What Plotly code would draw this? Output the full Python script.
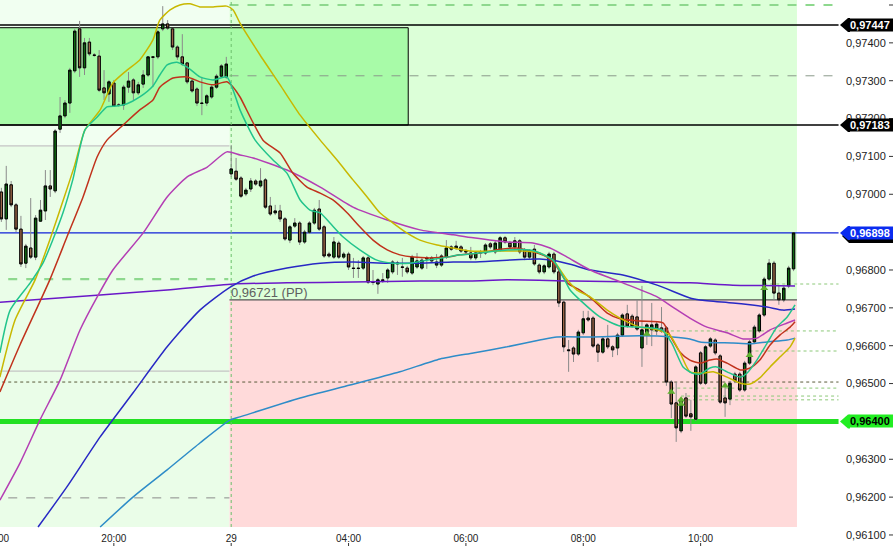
import plotly.graph_objects as go

# ---------------------------------------------------------------- data
# prices are stored in points (1 point = 0.00001); bar 0 = day 29, 00:00 (5-minute bars)
FIRST_BAR = -47

opens = [
    97006, 96935, 97025, 96972, 96908, 96818, 96858, 96834, 96929, 96956,
    97022, 97009, 97172, 97207, 97241, 97326, 97437, 97334, 97402, 97368,
    97365, 97281, 97265, 97294, 97236, 97236, 97283, 97302, 97268, 97291,
    97315, 97363, 97363, 97437, 97450, 97437, 97389, 97363, 97347, 97299,
    97278, 97241, 97241, 97257, 97283, 97312, 97310, 97054, 97061, 97043,
    97001, 97014, 97035, 97022, 97038, 96969, 96951, 96956, 96935, 96879,
    96916, 96924, 96874, 96900, 96924, 96961, 96914, 96842, 96834, 96871,
    96834, 96842, 96805, 96805, 96805, 96832, 96768, 96763, 96774, 96779,
    96795, 96816, 96808, 96805, 96792, 96808, 96805, 96829, 96832, 96813,
    96813, 96834, 96855, 96858, 96861, 96850, 96845, 96832, 96845, 96845,
    96869, 96848, 96853, 96885, 96871, 96861, 96877, 96853, 96834, 96855,
    96813, 96795, 96808, 96842, 96795, 96715, 96589, 96594, 96578, 96634,
    96673, 96673, 96602, 96583, 96618, 96597, 96594, 96628, 96684, 96678,
    96676, 96594, 96634, 96642, 96639, 96647, 96647, 96504, 96449, 96375,
    96462, 96420, 96406, 96581, 96501, 96599, 96615, 96573, 96462, 96459,
    96525, 96525, 96483, 96554, 96610, 96639, 96681, 96776, 96818, 96739,
    96721, 96758, 96803]
highs = [
    97017, 97075, 97035, 96977, 96943, 96869, 96990, 96945, 96985, 97064,
    97064, 97172, 97257, 97249, 97334, 97437, 97458, 97413, 97413, 97373,
    97381, 97328, 97302, 97302, 97241, 97289, 97323, 97307, 97297, 97328,
    97363, 97365, 97434, 97497, 97460, 97439, 97394, 97423, 97349, 97305,
    97283, 97310, 97265, 97289, 97318, 97344, 97363, 97130, 97096, 97048,
    97017, 97043, 97040, 97069, 97043, 96993, 96972, 96972, 96940, 96919,
    96937, 96929, 96906, 96929, 96964, 96985, 96919, 96848, 96887, 96877,
    96848, 96848, 96832, 96826, 96837, 96837, 96800, 96779, 96792, 96805,
    96826, 96824, 96832, 96811, 96840, 96845, 96832, 96837, 96837, 96842,
    96842, 96879, 96866, 96877, 96866, 96855, 96861, 96850, 96853, 96871,
    96874, 96877, 96890, 96890, 96877, 96887, 96882, 96858, 96855, 96866,
    96818, 96816, 96848, 96848, 96800, 96721, 96615, 96599, 96642, 96692,
    96692, 96678, 96607, 96623, 96655, 96602, 96634, 96686, 96708, 96684,
    96721, 96758, 96660, 96713, 96663, 96702, 96652, 96509, 96504, 96462,
    96475, 96457, 96549, 96586, 96602, 96623, 96620, 96578, 96491, 96507,
    96531, 96531, 96560, 96615, 96655, 96686, 96782, 96829, 96824, 96760,
    96758, 96811, 96898]
lows = [
    96927, 96906, 96966, 96900, 96808, 96805, 96829, 96826, 96927, 96932,
    96993, 97003, 97162, 97201, 97215, 97320, 97310, 97315, 97365, 97363,
    97270, 97249, 97244, 97231, 97231, 97223, 97268, 97249, 97262, 97281,
    97310, 97283, 97357, 97431, 97434, 97381, 97355, 97339, 97291, 97268,
    97233, 97209, 97233, 97252, 97278, 97307, 97305, 97046, 97035, 96990,
    96995, 97006, 97022, 97017, 96961, 96943, 96945, 96927, 96877, 96871,
    96911, 96866, 96869, 96895, 96919, 96903, 96832, 96832, 96829, 96829,
    96829, 96800, 96779, 96779, 96800, 96763, 96760, 96737, 96766, 96766,
    96789, 96787, 96782, 96789, 96787, 96803, 96800, 96803, 96818, 96805,
    96808, 96829, 96850, 96853, 96845, 96842, 96826, 96826, 96832, 96840,
    96855, 96842, 96848, 96869, 96855, 96855, 96842, 96826, 96829, 96811,
    96789, 96789, 96803, 96789, 96702, 96583, 96531, 96557, 96573, 96628,
    96663, 96594, 96557, 96578, 96591, 96570, 96575, 96623, 96647, 96647,
    96639, 96544, 96602, 96599, 96628, 96634, 96494, 96409, 96346, 96369,
    96409, 96375, 96401, 96496, 96496, 96594, 96575, 96446, 96412, 96443,
    96501, 96478, 96478, 96549, 96605, 96634, 96676, 96771, 96721, 96708,
    96715, 96752, 96797]
closes = [
    96935, 97027, 96972, 96908, 96816, 96863, 96834, 96937, 96958, 97022,
    97014, 97167, 97207, 97241, 97328, 97431, 97334, 97400, 97371, 97367,
    97275, 97268, 97297, 97233, 97235, 97283, 97299, 97268, 97289, 97315,
    97363, 97362, 97429, 97450, 97439, 97389, 97363, 97344, 97297, 97273,
    97241, 97240, 97260, 97283, 97312, 97339, 97344, 97067, 97040, 96995,
    97011, 97035, 97027, 97035, 96966, 96948, 96956, 96935, 96882, 96914,
    96924, 96874, 96900, 96924, 96958, 96908, 96837, 96837, 96874, 96834,
    96842, 96808, 96804, 96804, 96832, 96768, 96767, 96774, 96772, 96800,
    96821, 96818, 96807, 96795, 96834, 96824, 96826, 96832, 96824, 96821,
    96837, 96858, 96861, 96863, 96850, 96848, 96832, 96845, 96848, 96866,
    96861, 96871, 96885, 96874, 96861, 96877, 96848, 96834, 96850, 96816,
    96795, 96811, 96842, 96795, 96713, 96597, 96587, 96578, 96636, 96671,
    96668, 96599, 96583, 96618, 96597, 96589, 96628, 96681, 96652, 96652,
    96644, 96642, 96655, 96655, 96657, 96639, 96504, 96446, 96383, 96457,
    96414, 96412, 96544, 96501, 96597, 96618, 96581, 96451, 96449, 96501,
    96507, 96483, 96554, 96610, 96649, 96681, 96776, 96818, 96739, 96721,
    96752, 96805, 96898]

# moving averages: (bar position, value in points)
ma_teal = [(-47.3, 96581), (-45.2, 96694), (-41.1, 96766), (-38.5, 96818), (-36.5, 96879), (-34.4, 96951),
           (-32.4, 97038), (-29.9, 97170), (-27.4, 97204), (-25.4, 97231), (-23.4, 97233), (-21.3, 97239),
           (-18.7, 97257), (-16.0, 97286), (-14.6, 97315), (-13.1, 97342), (-11.1, 97349), (-9.0, 97336),
           (-6.4, 97310), (-3.7, 97302), (-0.9, 97310), (0.4, 97275), (1.8, 97223), (4.9, 97143), (8.5, 97091),
           (11.4, 97056), (14.1, 96985), (16.1, 96958), (18.2, 96951), (20.2, 96924), (22.9, 96887),
           (26.3, 96853), (29.8, 96826), (33.1, 96818), (36.6, 96818), (40.0, 96826), (43.3, 96832),
           (46.8, 96840), (48.8, 96842), (52.9, 96848), (56.4, 96853), (61.1, 96853), (63.1, 96845),
           (65.8, 96826), (67.9, 96782), (69.3, 96747), (71.3, 96721), (75.4, 96676), (79.5, 96652),
           (84.2, 96649), (88.1, 96642), (90.1, 96607), (92.4, 96544), (94.2, 96528), (95.9, 96525),
           (97.9, 96541), (99.3, 96544), (101.4, 96531), (104.1, 96517), (105.5, 96528), (107.5, 96562),
           (109.6, 96607), (111.6, 96649), (113.7, 96676), (115.3, 96708)]
ma_yellow = [(-47.3, 96517), (-44.2, 96668), (-40.1, 96774), (-37.1, 96879), (-34.0, 96998), (-32.0, 97077),
             (-29.9, 97170), (-26.8, 97223), (-24.2, 97294), (-21.3, 97328), (-18.7, 97355), (-16.0, 97408),
             (-14.6, 97460), (-12.5, 97487), (-10.5, 97500), (-8.4, 97503), (-6.4, 97495), (-3.7, 97495),
             (-0.9, 97497), (0.4, 97487), (1.8, 97452), (5.9, 97368), (10.0, 97289), (14.1, 97209),
             (18.2, 97143), (21.6, 97091), (24.9, 97038), (27.8, 96993), (30.4, 96951), (33.1, 96924),
             (35.9, 96898), (38.6, 96879), (42.1, 96866), (45.4, 96858), (48.8, 96850), (55.0, 96850),
             (59.7, 96850), (63.1, 96845), (65.8, 96826), (68.7, 96774), (70.7, 96747), (73.4, 96729),
             (76.9, 96694), (79.5, 96673), (83.6, 96649), (87.1, 96642), (89.7, 96628), (91.8, 96581),
             (93.8, 96531), (96.5, 96528), (98.6, 96531), (101.4, 96517), (104.1, 96501), (106.1, 96499),
             (108.1, 96515), (110.2, 96544), (112.2, 96570), (114.3, 96597), (115.3, 96620)]
ma_red = [(-47.3, 96478), (-43.2, 96602), (-37.1, 96774), (-33.6, 96887), (-30.3, 96993), (-27.4, 97099),
          (-25.4, 97143), (-22.1, 97183), (-18.7, 97223), (-16.0, 97249), (-14.6, 97283), (-11.9, 97307),
          (-9.0, 97310), (-6.4, 97297), (-3.7, 97289), (-0.9, 97297), (0.4, 97283), (1.8, 97257),
          (6.5, 97143), (10.0, 97109), (12.6, 97056), (15.5, 97019), (18.2, 97003), (20.8, 96985),
          (23.7, 96951), (26.3, 96914), (29.0, 96879), (31.9, 96853), (34.5, 96840), (37.2, 96834),
          (40.7, 96832), (44.1, 96834), (46.8, 96840), (50.9, 96845), (55.0, 96855), (58.4, 96858),
          (61.7, 96848), (64.6, 96834), (66.6, 96808), (68.7, 96766), (71.3, 96747), (74.0, 96721),
          (76.9, 96686), (79.5, 96671), (83.6, 96665), (88.3, 96660), (89.7, 96628), (91.8, 96583),
          (93.8, 96562), (95.9, 96554), (97.9, 96562), (99.3, 96565), (101.4, 96554), (104.1, 96536),
          (106.1, 96541), (108.1, 96562), (110.2, 96602), (112.2, 96628), (114.3, 96649), (115.3, 96663)]
ma_magenta = [(-47.3, 96192), (-43.2, 96290), (-39.1, 96404), (-35.0, 96509), (-30.9, 96642), (-27.4, 96729),
              (-24.2, 96800), (-18.0, 96898), (-13.1, 96993), (-9.0, 97046), (-4.9, 97072), (-0.9, 97112),
              (1.8, 97104), (4.5, 97096), (11.4, 97064), (18.2, 97019), (24.9, 96966), (31.9, 96932),
              (38.6, 96906), (45.4, 96893), (49.5, 96885), (56.4, 96874), (61.7, 96871), (65.2, 96858),
              (68.7, 96834), (73.4, 96800), (80.1, 96766), (87.1, 96729), (90.3, 96702), (93.8, 96673),
              (97.3, 96649), (101.4, 96634), (104.7, 96618), (107.5, 96620), (110.2, 96642), (113.7, 96660),
              (115.3, 96668)]
ma_blue = [(-39.5, 96121), (-33.6, 96227), (-26.8, 96359), (-20.1, 96475), (-13.1, 96597), (-6.4, 96694),
           (-0.2, 96755), (4.5, 96784), (11.4, 96805), (18.2, 96818), (24.9, 96821), (31.9, 96818),
           (38.6, 96818), (45.4, 96821), (49.5, 96821), (56.4, 96826), (63.1, 96829), (66.6, 96824),
           (69.9, 96813), (73.4, 96800), (80.1, 96787), (87.1, 96760), (93.8, 96726), (95.9, 96721),
           (102.6, 96713), (106.1, 96708), (109.6, 96702), (112.9, 96694), (115.3, 96697)]
ma_indigo = [(-47.3, 96715), (-26.8, 96734), (-13.1, 96747), (0.4, 96763), (11.4, 96766), (24.9, 96768),
             (38.6, 96771), (48.8, 96771), (56.4, 96774), (69.9, 96771), (83.6, 96768), (93.8, 96766),
             (102.6, 96760), (115.3, 96758)]
ma_steel = [(-26.8, 96121), (-20.1, 96200), (-13.1, 96272), (-6.4, 96343), (-0.2, 96404), (1.8, 96412),
            (14.1, 96462), (24.3, 96496), (34.5, 96531), (42.7, 96565), (49.5, 96581), (56.4, 96597),
            (63.1, 96615), (66.6, 96623), (73.4, 96623), (83.6, 96626), (90.3, 96623), (93.8, 96618),
            (95.9, 96610), (102.6, 96607), (106.1, 96605), (109.6, 96610), (113.7, 96615), (115.3, 96620)]

# fractal-like up markers
marker_bars = [85, 90, 92, 92, 101, 106, 109]
marker_vals = [96631, 96478, 96457, 96446, 96494, 96575, 96752]

# x-axis labels
tick_bars = [-24, 0, 24, 48, 72, 96]
tick_text = ["20:00", "29", "04:00", "06:00", "08:00", "10:00"]
cut_label = "18:00"
cut_label_bar = -48

# price axis ticks (0,96900 and 0,96400 sit under the price tags)
price_ticks = [0.961, 0.962, 0.963, 0.965, 0.966, 0.967, 0.968, 0.970, 0.971, 0.972, 0.973, 0.974, 0.975]

# price levels
pivot_pp = 0.96721
box_top, box_bottom = 0.97440, 0.97183
left_split = 0.97128
level_prices = [0.97500, 0.97447, 0.97313, 0.97183, 0.97128, 0.96898, 0.96776, 0.96763,
                0.96639, 0.96586, 0.96533, 0.96504, 0.96488, 0.96467, 0.96457, 0.96400, 0.96198]
label_prices = [0.97447, 0.97183, 0.96898, 0.96400]

# ---------------------------------------------------------------- layout constants
W, H = 893, 546
PLOT_W = 845
PX_PER_BAR = 4.89
BAR0_PX = 231.2
X_MIN = -BAR0_PX / PX_PER_BAR
X_MAX = X_MIN + PLOT_W / PX_PER_BAR
Y_MIN, Y_MAX = 0.960709, 0.975132
PX_Y = (Y_MAX - Y_MIN) / H          # price units per pixel
SHADE_BOT = 0.961211
ZONE_START = -0.35
ZONE_END = 115.7
LINE_END = 124.2
LEFT = X_MIN - 2
BOX_END = 36.2
XAXIS_POS = (H - 531) / H           # x-axis line height (paper units)

def pts(v):
    return round(v * 1e-5, 5)

n = len(opens)
bars = list(range(FIRST_BAR, FIRST_BAR + n))
O = [pts(v) for v in opens]
Hh = [pts(v) for v in highs]
L = [pts(v) for v in lows]
C = [pts(v) for v in closes]
body_hi = [max(a, b) for a, b in zip(O, C)]
body_lo = [min(a, b) for a, b in zip(O, C)]

fig = go.Figure()

WICK = "#8a8a8a"
fig.add_trace(go.Candlestick(
    x=bars, open=O, high=Hh, low=L, close=C,
    increasing=dict(line=dict(color=WICK, width=1), fillcolor=WICK),
    decreasing=dict(line=dict(color=WICK, width=1), fillcolor=WICK),
    whiskerwidth=0, hoverinfo="skip", showlegend=False))
fig.add_trace(go.Candlestick(
    x=bars, open=O, high=body_hi, low=body_lo, close=C,
    increasing=dict(line=dict(color="#000000", width=1), fillcolor="#0E6A12"),
    decreasing=dict(line=dict(color="#000000", width=1), fillcolor="#9C6648"),
    whiskerwidth=0, hoverinfo="skip", showlegend=False))

ma_styles = [
    (ma_steel, "#2E8CC8"),
    (ma_indigo, "#6A18C8"),
    (ma_blue, "#2828C4"),
    (ma_magenta, "#B43EB4"),
    (ma_red, "#C0321C"),
    (ma_yellow, "#C8B800"),
    (ma_teal, "#22C48C"),
]
for series, col in ma_styles:
    fig.add_trace(go.Scatter(
        x=[p[0] for p in series], y=[pts(p[1]) for p in series],
        mode="lines", line=dict(color=col, width=1.5, shape="spline", smoothing=0.6),
        hoverinfo="skip", showlegend=False))

fig.add_trace(go.Scatter(
    x=marker_bars, y=[pts(v) for v in marker_vals], mode="markers",
    marker=dict(symbol="triangle-up", size=7, color="#5FB030"),
    hoverinfo="skip", showlegend=False))

# ---------------------------------------------------------------- shapes
shapes = []

def rect(x0, x1, y0, y1, color, border=None):
    shapes.append(dict(type="rect", xref="x", yref="y", x0=x0, x1=x1, y0=y0, y1=y1,
                       fillcolor=color,
                       line=dict(width=1, color=border) if border else dict(width=0),
                       layer="below"))

rect(LEFT, ZONE_START, left_split, Y_MAX + 0.001, "#F1FFF1")
rect(LEFT, ZONE_START, SHADE_BOT, left_split, "#EAFDE8")
rect(ZONE_START, ZONE_END, pivot_pp, Y_MAX + 0.001, "#DCFFD8")
rect(ZONE_START, ZONE_END, SHADE_BOT, pivot_pp, "#FFDADA")
rect(LEFT, BOX_END, box_bottom, box_top, "#A8FBA8", border="#000000")

level_styles = [
    (ZONE_START, LINE_END, "#8ED88E", 2.2, "dash"),     # 0.97500
    (LEFT, LINE_END, "#000000", 1.4, "solid"),           # 0.97447
    (ZONE_START, LINE_END, "#8A9A8A", 1, "dash"),        # 0.97313
    (LEFT, LINE_END, "#000000", 1.3, "solid"),           # 0.97183
    (LEFT, ZONE_START, "#C4C4C4", 1.2, "solid"),         # 0.97128
    (LEFT, LINE_END, "#1020D8", 1.2, "solid"),           # 0.96898
    (LEFT, -0.6, "#8ED88E", 2.2, "dash"),                # 0.96776
    (109, LINE_END, "#8CC878", 1, "dot"),                # 0.96763
    (85, LINE_END, "#8CC878", 1, "dot"),                 # 0.96639
    (106, LINE_END, "#8CC878", 1, "dot"),                # 0.96586
    (LEFT, ZONE_START, "#C4C4C4", 1.2, "solid"),         # 0.96533
    (LEFT, LINE_END, "#5A5A3A", 1, "dot"),               # 0.96504
    (90, LINE_END, "#8CC878", 1, "dot"),                 # 0.96488
    (92, LINE_END, "#8CC878", 1, "dot"),                 # 0.96467
    (92, LINE_END, "#8CC878", 1, "dot"),                 # 0.96457
    (LEFT, LINE_END, "#22E022", 5, "solid"),             # 0.96400
    (LEFT, ZONE_START, "#8A8A8A", 1, "dash"),            # 0.96198
]
for v, (x0, x1, col, w, dash) in zip(level_prices, level_styles):
    shapes.append(dict(type="line", xref="x", yref="y", x0=x0, x1=x1, y0=v, y1=v,
                       line=dict(color=col, width=w, dash=dash), layer="below"))

# pivot boundary line
shapes.append(dict(type="line", xref="x", yref="y", x0=ZONE_START, x1=ZONE_END, y0=pivot_pp, y1=pivot_pp,
                   line=dict(color="#555555", width=1.2), layer="below"))
# day separator
shapes.append(dict(type="line", xref="x", yref="y", x0=0, x1=0, y0=SHADE_BOT, y1=Y_MAX + 0.001,
                   line=dict(color="#6CC06C", width=1, dash="dot"), layer="below"))

# small tick marks: under the time labels and right of the price labels
for b in tick_bars:
    shapes.append(dict(type="line", xref="x", yref="y", x0=b, x1=b, y0=Y_MIN, y1=Y_MIN + 3 * PX_Y,
                       line=dict(color="#333333", width=1), layer="above"))

def xp(px):
    return px / PLOT_W

for v in price_ticks:
    shapes.append(dict(type="line", xref="paper", yref="y", x0=xp(889), x1=xp(893), y0=v, y1=v,
                       line=dict(color="#333333", width=1), layer="above"))

# price labels on the axis (arrow tip = shape, body = annotation box)
label_styles = [("#000000", "#FFFFFF"), ("#000000", "#FFFFFF"), ("#0A2CF0", "#FFFFFF"), ("#22EE22", "#000000")]
annotations = []
for v, (bg, fg) in zip(label_prices, label_styles):
    hh = 7 * PX_Y
    if bg == "#0A2CF0":
        sh = 3 * PX_Y
        shapes.append(dict(type="path", xref="paper", yref="y", layer="above", line=dict(width=0),
                           fillcolor="#000000",
                           path=f"M {xp(842)},{v - sh} L {xp(849)},{v + hh - sh} L {xp(894)},{v + hh - sh} "
                                f"L {xp(894)},{v - hh - sh} L {xp(849)},{v - hh - sh} Z"))
    shapes.append(dict(type="path", xref="paper", yref="y", layer="above", line=dict(width=0),
                       fillcolor=bg,
                       path=f"M {xp(840)},{v} L {xp(848)},{v + hh} L {xp(850)},{v + hh} "
                            f"L {xp(850)},{v - hh} L {xp(848)},{v - hh} Z"))
    annotations.append(dict(xref="paper", yref="y", x=xp(894), y=v, xanchor="right", yanchor="middle",
                            text=f"<b>{v:.5f}</b>".replace(".", ",") + "&nbsp;", showarrow=False,
                            bgcolor=bg, borderpad=0,
                            font=dict(size=11, color=fg, family="Liberation Sans, Arial")))

annotations.append(dict(xref="x", yref="y", x=-0.5, y=pivot_pp, xanchor="left", yanchor="bottom",
                        text=f"{pivot_pp:.5f} (PP)".replace(".", ","), showarrow=False, yshift=-2,
                        font=dict(size=13, color="#606060", family="Liberation Sans, Arial")))
annotations.append(dict(xref="paper", yref="paper",
                        x=(BAR0_PX + cut_label_bar * PX_PER_BAR) / PLOT_W, y=(H - 538) / H,
                        xanchor="center", yanchor="middle", text=cut_label, showarrow=False,
                        font=dict(size=10, color="#222222", family="Liberation Sans, Arial")))

fig.update_layout(
    width=W, height=H,
    margin=dict(l=0, r=W - PLOT_W, t=0, b=0, autoexpand=False),
    paper_bgcolor="#FFFFFF", plot_bgcolor="#FFFFFF",
    separators=",.",
    showlegend=False,
    shapes=shapes, annotations=annotations,
    font=dict(family="Liberation Sans, Arial", size=11, color="#222222"),
    xaxis=dict(range=[X_MIN, X_MAX], showgrid=False, zeroline=False, showline=False,
               anchor="free", position=XAXIS_POS,
               tickmode="array", tickvals=tick_bars, ticktext=tick_text, automargin=False,
               ticks="", ticklabelposition="outside",
               tickfont=dict(size=10, color="#222222"),
               rangeslider=dict(visible=False), fixedrange=True),
    yaxis=dict(range=[Y_MIN, Y_MAX], side="right", anchor="free", position=1,
               showgrid=False, zeroline=False, showline=False,
               tickmode="array", tickvals=price_ticks,
               tickformat=".5f", ticks="", automargin=False,
               tickfont=dict(size=11, color="#222222"), fixedrange=True),
)

fig.write_html("out.html", config={"displayModeBar": False},
               post_script="document.body.style.margin='0';document.body.style.overflow='hidden';")
